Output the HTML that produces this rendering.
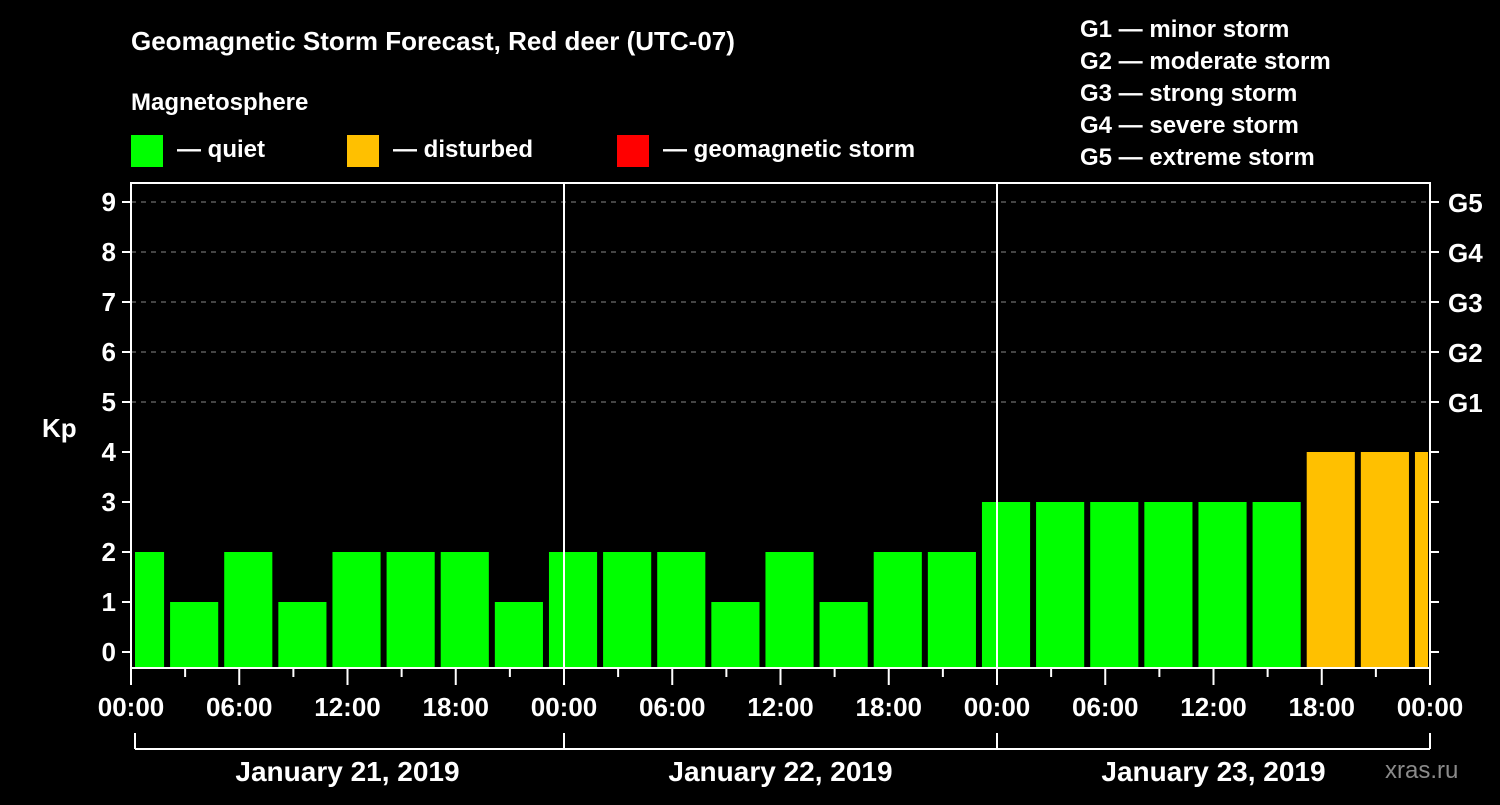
<!DOCTYPE html>
<html><head><meta charset="utf-8"><style>
body{margin:0;background:#000;width:1500px;height:800px;overflow:hidden}
svg text{font-family:"Liberation Sans",sans-serif;font-weight:bold;fill:#fff}
</style></head><body>
<svg id="c" width="1500" height="800">
<text x="131" y="50" font-size="26">Geomagnetic Storm Forecast, Red deer (UTC-07)</text>
<text x="131" y="110" font-size="24">Magnetosphere</text>
<g><rect x="131" y="135" width="32" height="32" fill="#00ff00"/><text x="177" y="157" font-size="24">— quiet</text></g>
<g><rect x="347" y="135" width="32" height="32" fill="#ffc000"/><text x="393" y="157" font-size="24">— disturbed</text></g>
<g><rect x="617" y="135" width="32" height="32" fill="#ff0000"/><text x="663" y="157" font-size="24">— geomagnetic storm</text></g>
<g font-size="24">
<text x="1080" y="37">G1 — minor storm</text>
<text x="1080" y="69">G2 — moderate storm</text>
<text x="1080" y="101">G3 — strong storm</text>
<text x="1080" y="133">G4 — severe storm</text>
<text x="1080" y="165">G5 — extreme storm</text>
</g>
<text x="42" y="437" font-size="26">Kp</text>
<text x="1385" y="778" font-size="24" fill="#888" style="fill:#8a8a8a;font-weight:normal">xras.ru</text>
<g id="g"></g>
</svg>
<script>
const binStartHours=[-1,2,5,8,11,14,17,20,23,26,29,32,35,38,41,44,47,50,53,56,59,62,65,68,71];
const kpValues=[2,1,2,1,2,2,2,1,2,2,2,1,2,1,2,2,3,3,3,3,3,3,4,4,4];
const yTicks=[0,1,2,3,4,5,6,7,8,9];
const gLabels=["G1","G2","G3","G4","G5"];
const xTickLabels=["00:00","06:00","12:00","18:00","00:00","06:00","12:00","18:00","00:00","06:00","12:00","18:00","00:00"];
const dayLabels=["January 21, 2019","January 22, 2019","January 23, 2019"];
const L=131,R=1430,T=183,B=668,H=72;
const x=h=>L+(R-L)*h/H;
const y=k=>652-50*k;
const g=document.getElementById('g');
const NS='http://www.w3.org/2000/svg';
function mk(t,a,p){const e=document.createElementNS(NS,t);for(const k in a)e.setAttribute(k,a[k]);(p||g).appendChild(e);return e;}
// grid
for(let i=5;i<=9;i++){const l=mk('line',{x1:L,x2:R,y1:y(i),y2:y(i),stroke:'#888','stroke-dasharray':'5,5','stroke-width':1});

}
// bars
binStartHours.forEach((h,i)=>{const v=kpValues[i];
const x0=Math.max(L+4,x(h)+3),x1=Math.min(R-2,x(h+3)-3);
const c=v>=5?'#ff0000':v>=4?'#ffc000':'#00ff00';
const r=mk('rect',{x:x0,y:y(v),width:x1-x0,height:B-y(v),fill:c});

});
// day separators
[1,2].forEach(d=>{const l=mk('line',{x1:x(24*d),x2:x(24*d),y1:T,y2:B,stroke:'#fff','stroke-width':2});

});
// frame
const f=mk('rect',{x:L,y:T,width:R-L,height:B-T,fill:'none',stroke:'#fff','stroke-width':2});


// y ticks
yTicks.forEach(k=>{mk('line',{x1:L-9,x2:L,y1:y(k),y2:y(k),stroke:'#fff','stroke-width':2});
mk('line',{x1:R,x2:R+9,y1:y(k),y2:y(k),stroke:'#fff','stroke-width':2});
const t=mk('text',{x:L-15,y:y(k)+9,'font-size':26,'text-anchor':'end'});t.textContent=k;

});
gLabels.forEach((s,i)=>{const t=mk('text',{x:R+18,y:y(5+i)+10,'font-size':26});t.textContent=s;

});
// x ticks
for(let h=0;h<=H;h+=3){const major=h%6===0;mk('line',{x1:x(h),x2:x(h),y1:B,y2:B+(major?17:9),stroke:'#fff','stroke-width':2});}
xTickLabels.forEach((s,i)=>{const t=mk('text',{x:x(i*6),y:716,'font-size':26,'text-anchor':'middle'});t.textContent=s;

});
// day bracket
mk('line',{x1:L+4,x2:R,y1:749,y2:749,stroke:'#fff','stroke-width':2});
for(let d=0;d<=3;d++)mk('line',{x1:d==0?L+4:x(24*d),x2:d==0?L+4:x(24*d),y1:733,y2:749,stroke:'#fff','stroke-width':2});
dayLabels.forEach((s,i)=>{const t=mk('text',{x:x(24*i+12),y:781,'font-size':28,'text-anchor':'middle'});t.textContent=s;

});
</script>
</body></html>
